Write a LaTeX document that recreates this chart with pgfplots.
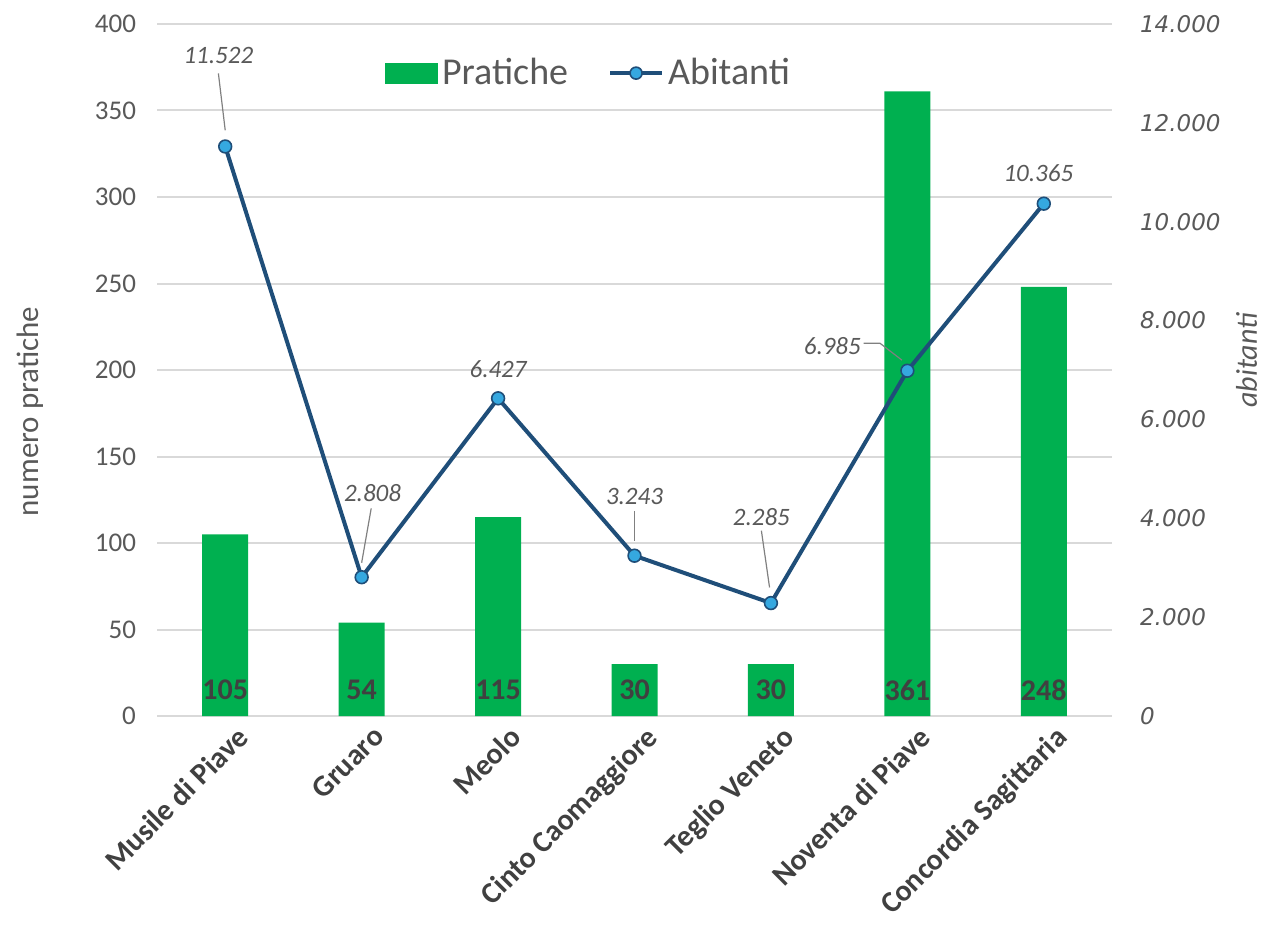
\documentclass[border=0pt]{standalone}
\usepackage{pgfplots}
\pgfplotsset{compat=1.18}
\usetikzlibrary{calc}
\usepackage{fontspec}
\setmainfont{Carlito}
\newfontfamily\dejavu{DejaVu Sans}
\definecolor{barg}{HTML}{00B050}
\definecolor{lineb}{HTML}{1F4E79}
\definecolor{markb}{HTML}{35A8E0}
\definecolor{gridc}{HTML}{D9D9D9}
\definecolor{txt}{HTML}{595959}
\definecolor{lab}{HTML}{404040}
\begin{document}
\begin{tikzpicture}
\begin{axis}[
  scale only axis, width=477.5pt, height=346pt,
  xmin=-0.5, xmax=6.5, ymin=0, ymax=400,
  ytick={0,50,...,400},
  ymajorgrids, grid style={gridc, line width=1pt},
  axis line style={draw=none}, tick style={draw=none},
  xtick={0,...,6},
  xticklabels={Musile di Piave, Gruaro, Meolo, Cinto Caomaggiore, Teglio Veneto, Noventa di Piave, Concordia Sagittaria},
  xticklabel style={rotate=45, anchor=north east, font=\bfseries\fontsize{15}{17}\selectfont, text=lab, xshift=4pt, yshift=-3pt},
  yticklabel style={font=\fontsize{13.5}{15}\selectfont, text=txt, xshift=-7pt},
  /pgf/number format/assume math mode=true,
  ylabel={numero pratiche},
  ylabel style={font=\fontsize{15.5}{17}\selectfont, text=txt, at={(axis description cs:-0.133,0.44)}, anchor=center},
]
\addplot[ybar, bar width=23pt, fill=barg, draw=none] coordinates {(0,105) (1,54) (2,115) (3,30) (4,30) (5,361) (6,248)};
\coordinate (bl) at (rel axis cs:0,0);
\coordinate (tr) at (rel axis cs:1,1);
\foreach \i/\v in {0/105,1/54,2/115,3/30,4/30,5/361,6/248} {
  \edef\temp{\noexpand\node[font=\noexpand\bfseries\noexpand\fontsize{15}{17}\noexpand\selectfont, text=lab] at (axis cs:\i,15) {\v};}
  \temp
}
\end{axis}
\begin{axis}[
  scale only axis, width=477.5pt, height=346pt,
  xmin=-0.5, xmax=6.5, ymin=0, ymax=14000,
  axis x line=none, axis y line*=right,
  axis line style={draw=none}, tick style={draw=none},
  scaled y ticks=false,
  ytick={0,2000,...,14000},
  yticklabels={0,2.000,4.000,6.000,8.000,10.000,12.000,14.000},
  yticklabel style={font=\dejavu\itshape\fontsize{11.5}{13}\selectfont, text=txt, xshift=10.5pt},
  ylabel={abitanti},
  ylabel style={font=\itshape\fontsize{15}{17}\selectfont, text=txt, at={(axis description cs:1.141,0.514)}, anchor=center},
  legend style={at={(0.453,0.929)}, anchor=center, draw=none, fill=none, legend columns=2,
    font=\fontsize{19}{21}\selectfont, text=txt,
    /tikz/every even column/.append style={column sep=18pt}},
  legend cell align=left,
]
\addlegendimage{legend image code/.code={\fill[barg] (0pt,-5pt) rectangle (26pt,5pt);}}
\addlegendentry{Pratiche}
\draw[gray, line width=0.6pt] (axis cs:-0.05,13000) -- (axis cs:0,11850);
\draw[gray, line width=0.6pt] (axis cs:1.07,4200) -- (axis cs:1.0,3100);
\draw[gray, line width=0.6pt] (axis cs:3,4150) -- (axis cs:3,3550);
\draw[gray, line width=0.6pt] (axis cs:3.93,3750) -- (axis cs:3.99,2600);
\draw[gray, line width=0.6pt] (axis cs:4.68,7540) -- (axis cs:4.8,7540) -- (axis cs:4.96,7200);
\addplot[lineb, line width=2pt, mark=*, mark size=3.2pt, mark options={fill=markb, draw=lineb, line width=0.8pt},
  legend image code/.code={\draw[lineb, line width=2pt] (0pt,0pt) -- (26pt,0pt); \draw[fill=markb, draw=lineb, line width=0.8pt] (13pt,0pt) circle (3pt);}]
  coordinates {(0,11522) (1,2808) (2,6427) (3,3243) (4,2285) (5,6985) (6,10365)};
\addlegendentry{Abitanti}
\begin{scope}[font=\itshape\fontsize{12.5}{14}\selectfont, text=txt]
\node at (axis cs:-0.05,13353) {11.522};
\node at (axis cs:1.08,4512) {2.808};
\node at (axis cs:2,7020) {6.427};
\node at (axis cs:3,4431) {3.243};
\node at (axis cs:3.93,4026) {2.285};
\node at (axis cs:4.45,7486) {6.985};
\node at (axis cs:5.96,10986) {10.365};
\end{scope}
\end{axis}
\pgfresetboundingbox
\useasboundingbox ($(bl)+(-78.5pt,-104.5pt)$) rectangle ($(tr)+(75.5pt,12pt)$);
\end{tikzpicture}
\end{document}
